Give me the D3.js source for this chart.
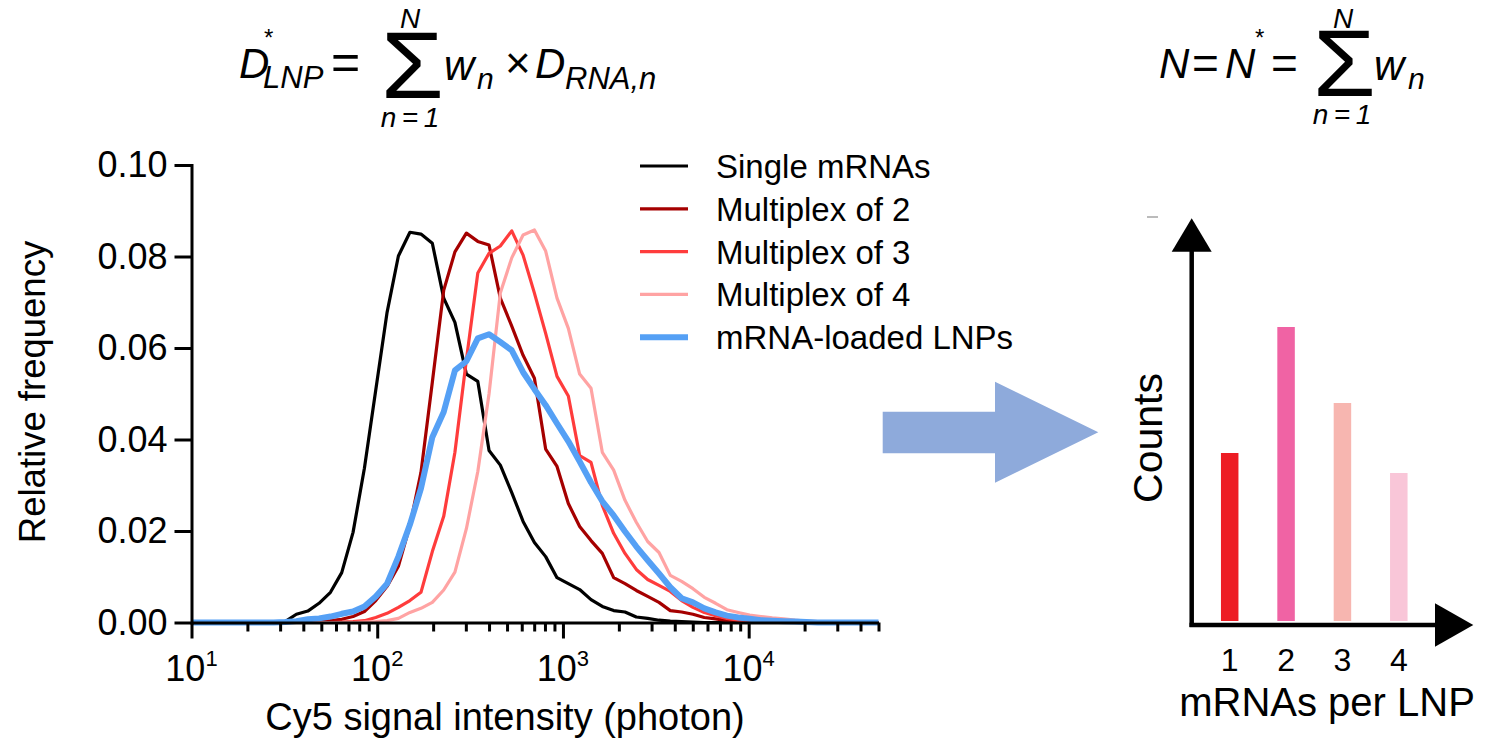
<!DOCTYPE html>
<html>
<head>
<meta charset="utf-8">
<script src="https://cdn.jsdelivr.net/npm/d3@7"></script>
<style>
  body { margin: 0; background: #fff; }
  text { font-family: "Liberation Sans", Arial, sans-serif; fill: #000; }
</style>
</head>
<body>
<div id="chart"></div>
<script>
// Histogram bins (photon), shared by all series
const intensity = [10, 11.9, 13.7, 15.8, 18.2, 20.9, 24.1, 27.7, 31.9, 36.7,
  42.3, 48.6, 56.0, 64.4, 74.1, 85.3, 98.2, 113, 130, 150,
  172, 198, 228, 262, 302, 348, 400, 460, 530, 610,
  702, 807, 929, 1069, 1230, 1416, 1629, 1875, 2158, 2483,
  2858, 3289, 3784, 4355, 5012, 5768, 6637, 7638, 8790, 10120,
  11640, 13400, 15420, 17740, 20420, 23500, 27040, 31120, 35810, 41210,
  47420, 50000];

const singleMRNA = [0, 0, 0, 0, 0, 0, 0, 0, 0.0002, 0.0018,
  0.0025, 0.0042, 0.0066, 0.0109, 0.0197, 0.0337, 0.0508, 0.0678, 0.0801, 0.0853,
  0.0849, 0.0829, 0.0709, 0.0656, 0.0543, 0.0527, 0.0376, 0.0344, 0.0284, 0.0221,
  0.0175, 0.0144, 0.0098, 0.0085, 0.0072, 0.0050, 0.0035, 0.0026, 0.0023, 0.0012,
  0.0009, 0.0005, 0.0003, 0.0002, 0.0001, 0, 0, 0, 0, 0,
  0, 0, 0, 0, 0, 0, 0, 0, 0, 0,
  0, 0];

const multiplex2 = [0, 0, 0, 0, 0, 0, 0, 0, 0, 0,
  0, 0.0002, 0.0004, 0.0007, 0.0013, 0.0024, 0.0048, 0.0079, 0.0123, 0.0212,
  0.0328, 0.0525, 0.0726, 0.0810, 0.0851, 0.0833, 0.0825, 0.0709, 0.0648, 0.0584,
  0.0534, 0.0379, 0.0341, 0.0260, 0.0210, 0.0179, 0.0151, 0.0098, 0.0085, 0.0070,
  0.0057, 0.0044, 0.0026, 0.0023, 0.0018, 0.0011, 0.0008, 0.0004, 0.0002, 0.0001,
  0, 0, 0, 0, 0, 0, 0, 0, 0, 0,
  0, 0];

const multiplex3 = [0, 0, 0, 0, 0, 0, 0, 0, 0, 0,
  0, 0, 0, 0.0001, 0.0002, 0.0004, 0.0011, 0.0020, 0.0033, 0.0048,
  0.0066, 0.0155, 0.0232, 0.0372, 0.0574, 0.0764, 0.0807, 0.0823, 0.0856, 0.0803,
  0.0720, 0.0632, 0.0538, 0.0495, 0.0365, 0.0350, 0.0256, 0.0195, 0.0151, 0.0116,
  0.0094, 0.0081, 0.0068, 0.0048, 0.0033, 0.0022, 0.0015, 0.0009, 0.0005, 0.0003,
  0.0002, 0, 0, 0, 0, 0, 0, 0, 0, 0,
  0, 0];

const multiplex4 = [0, 0, 0, 0, 0, 0, 0, 0, 0, 0,
  0, 0, 0, 0, 0, 0.0001, 0.0002, 0.0004, 0.0009, 0.0022,
  0.0031, 0.0044, 0.0071, 0.0110, 0.0205, 0.0330, 0.0500, 0.0720, 0.0797, 0.0847,
  0.0858, 0.0812, 0.0709, 0.0643, 0.0543, 0.0512, 0.0372, 0.0333, 0.0267, 0.0219,
  0.0177, 0.0153, 0.0103, 0.0090, 0.0074, 0.0055, 0.0042, 0.0028, 0.0022, 0.0016,
  0.0013, 0.0010, 0.0008, 0.0005, 0.0003, 0.0002, 0.0001, 0, 0, 0,
  0, 0];

const loadedLNPs = [0, 0, 0, 0, 0, 0, 0, 0, 0.0001, 0.0003,
  0.0007, 0.0009, 0.0013, 0.0019, 0.0024, 0.0035, 0.0057, 0.0085, 0.0144, 0.0214,
  0.0293, 0.0405, 0.0460, 0.0551, 0.0571, 0.0621, 0.0630, 0.0613, 0.0595, 0.0547,
  0.0510, 0.0475, 0.0435, 0.0396, 0.0352, 0.0306, 0.0265, 0.0234, 0.0199, 0.0166,
  0.0136, 0.0107, 0.0077, 0.0053, 0.0044, 0.0031, 0.0022, 0.0015, 0.0011, 0.0008,
  0.0005, 0.0004, 0.0003, 0.0002, 0.0001, 0, 0, 0, 0, 0,
  0, 0];

const seriesNames = ['Single mRNAs', 'Multiplex of 2', 'Multiplex of 3', 'Multiplex of 4', 'mRNA-loaded LNPs'];
const seriesValues = [singleMRNA, multiplex2, multiplex3, multiplex4, loadedLNPs];
const seriesColors = ['#000000', '#a50000', '#ff3c3c', '#ffa3a3', '#55a0f5'];
const seriesWidths = [3.2, 3.2, 3.2, 3.2, 6];

const yTicks = [0, 0.02, 0.04, 0.06, 0.08, 0.10];
const xMajorTicks = [10, 100, 1000, 10000];
const xTickExponents = ['1', '2', '3', '4'];
const xMinorTicks = [20, 30, 40, 50, 60, 70, 80, 90, 200, 300, 400, 500, 600, 700, 800, 900,
  2000, 3000, 4000, 5000, 6000, 7000, 8000, 9000, 20000, 30000, 40000, 50000];

// Right panel: counts per number of mRNAs (relative, no scale shown)
const mrnaPerLNP = ['1', '2', '3', '4'];
const lnpCounts = [0.42, 0.735, 0.545, 0.37];
const barColors = ['#ed1c24', '#f063a4', '#f7b6b0', '#f9c6d8'];

const width = 1490, height = 745;

const svg = d3.select('#chart')
  .append('svg')
  .attr('width', width)
  .attr('height', height);

svg.append('rect').attr('width', width).attr('height', height).attr('fill', '#fff');

// ---------- formulas ----------
const addText = (txt, x, yPos, size, opts = {}) => {
  const t = svg.append('text')
    .attr('x', x)
    .attr('y', yPos)
    .attr('font-size', size)
    .attr('text-anchor', opts.anchor || 'start')
    .text(txt);
  if (opts.italic) t.attr('font-style', 'italic');
  if (opts.family) t.attr('font-family', opts.family);
  return t;
};

// big sigma, widened a little to match the math font
const addSigma = (x, base) => svg.append('text')
  .attr('transform', `translate(${x},${base}) scale(1.08,1)`)
  .attr('font-size', 94)
  .attr('font-family', '"Liberation Serif", serif')
  .text('\u03A3');

// D*_LNP = sum w_n x D_RNA,n
addText('D', 239, 78, 42, { italic: true });
addText('*', 263, 46, 24, { italic: true });
addText('LNP', 263, 88, 31, { italic: true });
addText('=', 331, 79, 50);
addSigma(381, 98);
addText('N', 410, 28, 28, { italic: true, anchor: 'middle' });
addText('n\u2009=\u20091', 410, 127, 28, { italic: true, anchor: 'middle' });
addText('w', 444, 80, 42, { italic: true });
addText('n', 477, 89, 30, { italic: true });
addText('\u00D7', 505, 78, 44);
addText('D', 535, 78, 42, { italic: true });
addText('RNA,n', 565, 89, 31, { italic: true });

// N = N* = sum w_n
addText('N', 1159, 78, 42, { italic: true });
addText('=', 1192, 79, 46);
addText('N', 1225, 78, 42, { italic: true });
addText('*', 1254, 46, 24, { italic: true });
addText('=', 1271, 79, 46);
addSigma(1313, 96);
addText('N', 1343, 28, 28, { italic: true, anchor: 'middle' });
addText('n\u2009=\u20091', 1342, 124, 28, { italic: true, anchor: 'middle' });
addText('w', 1374, 80, 42, { italic: true });
addText('n', 1408, 89, 30, { italic: true });

// ---------- histogram ----------
const x = d3.scaleLog().domain([10, 50000]).range([191.5, 878.5]);
const y = d3.scaleLinear().domain([0, 0.10]).range([622.5, 165]);

const line = d3.line()
  .x((d, i) => x(intensity[i]))
  .y(d => y(d));

svg.append('g')
  .selectAll('path')
  .data(seriesValues)
  .enter()
  .append('path')
  .attr('d', d => line(d))
  .attr('fill', 'none')
  .attr('stroke', (d, i) => seriesColors[i])
  .attr('stroke-width', (d, i) => seriesWidths[i])
  .attr('stroke-linejoin', 'round');

// y axis
const yAxis = svg.append('g')
  .attr('transform', 'translate(191.5,0)')
  .call(d3.axisLeft(y).tickValues(yTicks).tickSize(17).tickSizeOuter(0).tickPadding(7)
    .tickFormat(d3.format('.2f')));
yAxis.select('.domain').attr('stroke-width', 3).attr('stroke-linecap', 'square');
yAxis.selectAll('line').attr('stroke-width', 3);
yAxis.selectAll('text')
  .attr('font-size', 36)
  .attr('font-family', '"Liberation Sans", Arial, sans-serif');

// x axis: major + minor ticks
const xAxis = svg.append('g')
  .attr('transform', 'translate(0,622.5)')
  .call(d3.axisBottom(x).tickValues(xMajorTicks).tickSize(16).tickSizeOuter(0).tickFormat(''));
xAxis.select('.domain').attr('stroke-width', 3);
xAxis.selectAll('line').attr('stroke-width', 3);

const xMinor = svg.append('g')
  .attr('transform', 'translate(0,622.5)')
  .call(d3.axisBottom(x).tickValues(xMinorTicks).tickSize(9).tickFormat(''));
xMinor.select('.domain').remove();
xMinor.selectAll('line').attr('stroke-width', 3);

const xLabels = svg.append('g')
  .selectAll('text')
  .data(xMajorTicks)
  .enter()
  .append('text')
  .attr('x', d => x(d))
  .attr('y', 681)
  .attr('font-size', 36)
  .attr('text-anchor', 'middle');
xLabels.append('tspan').text('10');
xLabels.append('tspan')
  .attr('dy', -15)
  .attr('font-size', 22)
  .text((d, i) => xTickExponents[i]);

addText('Cy5 signal intensity (photon)', 505, 730, 38, { anchor: 'middle' });

svg.append('text')
  .attr('transform', 'translate(45,392) rotate(-90)')
  .attr('text-anchor', 'middle')
  .attr('font-size', 36.5)
  .text('Relative frequency');

// legend
const legend = svg.append('g')
  .selectAll('g')
  .data(seriesNames)
  .enter()
  .append('g')
  .attr('transform', (d, i) => `translate(640,${166 + i * 42.8})`);
legend.append('line')
  .attr('x1', 0).attr('x2', 48)
  .attr('stroke', (d, i) => seriesColors[i])
  .attr('stroke-width', (d, i) => seriesWidths[i]);
legend.append('text')
  .attr('x', 76)
  .attr('y', 12)
  .attr('font-size', 33)
  .text(d => d);

// ---------- arrow ----------
svg.append('polygon')
  .attr('points', '882.7,411.7 995,411.7 995,381.7 1098.3,432.3 995,482.7 995,453.3 882.7,453.3')
  .attr('fill', '#8eaadb');

// ---------- counts bar chart ----------
const xb = d3.scalePoint().domain(mrnaPerLNP).range([1229.7, 1398.8]);
const yb = d3.scaleLinear().domain([0, 1]).range([621, 221]);
const barWidth = 17.5;

svg.append('g')
  .selectAll('rect')
  .data(lnpCounts)
  .enter()
  .append('rect')
  .attr('x', (d, i) => xb(mrnaPerLNP[i]) - barWidth / 2)
  .attr('y', d => yb(d))
  .attr('width', barWidth)
  .attr('height', d => yb(0) - yb(d))
  .attr('fill', (d, i) => barColors[i]);

// axes with arrow heads
svg.append('line')
  .attr('x1', 1191.7).attr('y1', 627).attr('x2', 1191.7).attr('y2', 248)
  .attr('stroke', '#000').attr('stroke-width', 4.5);
svg.append('polygon')
  .attr('points', '1171.7,251.7 1211.7,251.7 1191.7,218.3')
  .attr('fill', '#000');
svg.append('line')
  .attr('x1', 1189.5).attr('y1', 625).attr('x2', 1438).attr('y2', 625)
  .attr('stroke', '#000').attr('stroke-width', 4.5);
svg.append('polygon')
  .attr('points', '1435,603.3 1435,646.7 1473.3,625')
  .attr('fill', '#000');
svg.append('line')
  .attr('x1', 1147).attr('y1', 217).attr('x2', 1158).attr('y2', 217)
  .attr('stroke', '#bbb').attr('stroke-width', 2);

svg.append('g')
  .selectAll('text')
  .data(mrnaPerLNP)
  .enter()
  .append('text')
  .attr('x', d => xb(d))
  .attr('y', 671)
  .attr('font-size', 32)
  .attr('text-anchor', 'middle')
  .text(d => d);

addText('mRNAs per LNP', 1327, 716, 40, { anchor: 'middle' });

svg.append('text')
  .attr('transform', 'translate(1162,438) rotate(-90)')
  .attr('text-anchor', 'middle')
  .attr('font-size', 41)
  .text('Counts');
</script>
</body>
</html>
